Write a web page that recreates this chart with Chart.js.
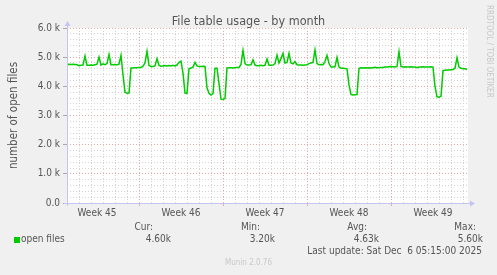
<!DOCTYPE html>
<html>
<head>
<meta charset="utf-8">
<script src="https://cdn.jsdelivr.net/npm/chart.js@4"></script>
<style>
  html, body { margin: 0; padding: 0; background: #f0f0f0; }
  #wrap { position: relative; width: 497px; height: 275px; font-family: "DejaVu Sans Condensed", "DejaVu Sans", sans-serif; color: #555; }
  canvas { position: absolute; left: 0; top: 0; }
  .t { position: absolute; white-space: pre; line-height: 1; }
</style>
</head>
<body>
<div id="wrap">
  <canvas id="myChart" width="497" height="275"></canvas>
  <div class="t" style="left:0;width:497px;text-align:center;top:15px;font-size:12.5px;">File table usage - by month</div>
  <div class="t" style="left:485px;top:5px;font-size:8px;color:#c8c8c8;writing-mode:vertical-rl;">RRDTOOL / TOBI OETIKER</div>
  <div class="t" style="right:344px;top:222px;font-size:10px;">Cur:</div>
  <div class="t" style="right:237px;top:222px;font-size:10px;">Min:</div>
  <div class="t" style="right:130px;top:222px;font-size:10px;">Avg:</div>
  <div class="t" style="right:21px;top:222px;font-size:10px;">Max:</div>
  <div style="position:absolute;left:14px;top:237px;width:6px;height:6px;background:#00cc00;"></div>
  <div class="t" style="left:21px;top:234px;font-size:10px;" id="seriesName"></div>
  <div class="t" style="right:326px;top:234px;font-size:10px;" id="statCur"></div>
  <div class="t" style="right:222px;top:234px;font-size:10px;" id="statMin"></div>
  <div class="t" style="right:118px;top:234px;font-size:10px;" id="statAvg"></div>
  <div class="t" style="right:14px;top:234px;font-size:10px;" id="statMax"></div>
  <div class="t" style="right:15px;top:246px;font-size:10px;">Last update: Sat Dec  6 05:15:00 2025</div>
  <div class="t" style="left:0;width:497px;text-align:center;top:259px;font-size:8px;color:#c8c8c8;">Munin 2.0.76</div>
</div>
<script>
// open files, one sample every 4 hours over the month
var sampleHours = 4;
var openFiles = [
    4750, 4760, 4750, 4760, 4750, 4740, 4710, 4720, 4730, 5040,
    4720, 4720, 4730, 4720, 4740, 4760, 5000, 4730, 4770, 4740,
    4780, 5090, 4740, 4740, 4750, 4740, 4760, 5060, 4400, 3800,
    3760, 3770, 4630, 4630, 4640, 4640, 4650, 4650, 4690, 4800,
    5200, 4720, 4680, 4680, 4700, 4950, 4720, 4690, 4700, 4710,
    4700, 4710, 4700, 4720, 4700, 4730, 4820, 4860, 4450, 3770,
    3760, 4600, 4630, 4660, 4820, 4700, 4680, 4680, 4690, 4680,
    3950, 3760, 3700, 3750, 4620, 4620, 4100, 3560, 3550, 3580,
    4630, 4640, 4640, 4630, 4640, 4650, 4650, 4750, 5230, 4780,
    4730, 4730, 4740, 4910, 4730, 4710, 4710, 4720, 4710, 4720,
    4940, 4720, 4720, 4730, 4780, 5070, 4800, 4950, 5130, 4800,
    4820, 5130, 4800, 4770, 4850, 4740, 4730, 4730, 4720, 4730,
    4740, 4780, 4800, 4820, 5250, 4780, 4740, 4750, 4740, 4850,
    5060, 4780, 4660, 4660, 4670, 4990, 4660, 4620, 4620, 4610,
    4600, 4050, 3720, 3700, 3710, 3720, 4620, 4640, 4630, 4640,
    4630, 4640, 4630, 4640, 4650, 4640, 4640, 4650, 4650, 4660,
    4660, 4670, 4680, 4670, 4660, 4680, 5190, 4680, 4660, 4670,
    4660, 4660, 4670, 4660, 4660, 4640, 4660, 4660, 4670, 4660,
    4660, 4660, 4670, 4660, 4000, 3640, 3630, 3660, 4540, 4550,
    4560, 4560, 4570, 4580, 4620, 4980, 4660, 4620, 4600, 4600,
    4580
];
var weekLabels = ['Week 45', 'Week 46', 'Week 47', 'Week 48', 'Week 49'];
var firstWeekStart = 144;   // hours from start of graph to first week boundary
var spanHours = 802;
var yMax = 6000;
var yStep = 200;
var seriesName = 'open files';
var stats = { cur: '4.60k', min: '3.20k', avg: '4.63k', max: '5.60k' };

document.getElementById('seriesName').textContent = seriesName;
document.getElementById('statCur').textContent = stats.cur;
document.getElementById('statMin').textContent = stats.min;
document.getElementById('statAvg').textContent = stats.avg;
document.getElementById('statMax').textContent = stats.max;

var FONT = '"DejaVu Sans Condensed", "DejaVu Sans", sans-serif';
var RED = '#e4aaaa';
var GREY = '#d4d4d4';
var AXIS = '#c4c4f4';

var points = openFiles.map(function (v, i) { return { x: i * sampleHours, y: v }; });

var plotBg = {
    id: 'plotBg',
    beforeDraw: function (chart) {
        var a = chart.chartArea, ctx = chart.ctx;
        ctx.save();
        ctx.fillStyle = '#ffffff';
        ctx.fillRect(a.left, a.top, a.right - a.left, a.bottom - a.top);
        ctx.restore();
    }
};

var axisArrows = {
    id: 'axisArrows',
    afterDraw: function (chart) {
        var a = chart.chartArea, ctx = chart.ctx;
        ctx.save();
        ctx.strokeStyle = AXIS;
        ctx.fillStyle = AXIS;
        ctx.lineWidth = 1;
        ctx.beginPath();
        ctx.moveTo(a.left + 0.5, a.bottom + 3);
        ctx.lineTo(a.left + 0.5, a.top - 3);
        ctx.moveTo(a.left - 3, a.bottom + 0.5);
        ctx.lineTo(a.right + 3, a.bottom + 0.5);
        ctx.stroke();
        ctx.beginPath();
        ctx.moveTo(a.left - 2.5, a.top - 2);
        ctx.lineTo(a.left + 3.5, a.top - 2);
        ctx.lineTo(a.left + 0.5, a.top - 7);
        ctx.fill();
        ctx.beginPath();
        ctx.moveTo(a.right + 2, a.bottom - 2.5);
        ctx.lineTo(a.right + 2, a.bottom + 3.5);
        ctx.lineTo(a.right + 7, a.bottom + 0.5);
        ctx.fill();
        ctx.restore();
    }
};

function isWeekStart(h) { return h >= firstWeekStart && (h - firstWeekStart) % 168 === 0; }

var ctx = document.getElementById('myChart').getContext('2d');
var myChart = new Chart(ctx, {
    type: 'line',
    data: {
        datasets: [{
            label: seriesName,
            data: points,
            borderColor: '#00cc00',
            borderWidth: 1.5,
            pointRadius: 0,
            fill: false,
            tension: 0
        }]
    },
    options: {
        responsive: false,
        animation: false,
        devicePixelRatio: 1,
        layout: { padding: { left: 0, right: 29, top: 28, bottom: 52 } },
        plugins: {
            legend: { display: false },
            title: { display: false },
            tooltip: { enabled: false }
        },
        scales: {
            x: {
                type: 'linear',
                min: 0,
                max: spanHours,
                afterFit: function (scale) { scale.height = 20; },
                afterBuildTicks: function (scale) {
                    var t = [];
                    for (var h = 0; h <= spanHours; h += 12) t.push({ value: h });
                    scale.ticks = t;
                },
                border: { display: false, dash: [1, 2] },
                grid: {
                    tickLength: 3,
                    color: function (c) {
                        var h = c.tick ? c.tick.value : -1;
                        if (isWeekStart(h)) return RED;
                        if (h % 24 === 0 && h > 0) return GREY;
                        return 'transparent';
                    },
                    tickColor: function (c) {
                        return c.tick && isWeekStart(c.tick.value) ? RED : 'transparent';
                    }
                },
                ticks: {
                    autoSkip: false,
                    maxRotation: 0,
                    padding: 1,
                    color: '#555',
                    font: { family: FONT, size: 10 },
                    callback: function (v) {
                        var k = (v - firstWeekStart + 84) / 168;
                        if (Number.isInteger(k) && k >= 0 && k < weekLabels.length) return weekLabels[k];
                        return '';
                    }
                }
            },
            y: {
                min: 0,
                max: yMax,
                afterFit: function (scale) { scale.width = 67; },
                afterBuildTicks: function (scale) {
                    var t = [];
                    for (var v = 0; v <= yMax; v += yStep) t.push({ value: v });
                    scale.ticks = t;
                },
                border: { display: false, dash: [1, 2] },
                grid: {
                    tickLength: 4,
                    color: function (c) {
                        var v = c.tick ? c.tick.value : 0;
                        if (v === 0) return 'transparent';
                        return v % 1000 === 0 ? RED : GREY;
                    },
                    tickColor: function (c) {
                        return c.tick && c.tick.value % 1000 === 0 ? '#aaaaaa' : 'transparent';
                    }
                },
                ticks: {
                    autoSkip: false,
                    padding: 3,
                    color: '#555',
                    font: { family: FONT, size: 10 },
                    callback: function (v) {
                        if (v % 1000 !== 0) return '';
                        return v === 0 ? '0.0' : (v / 1000).toFixed(1) + ' k';
                    }
                },
                title: {
                    display: true,
                    text: 'number of open files',
                    color: '#555',
                    font: { family: FONT, size: 11.5 },
                    padding: { top: 7, bottom: 0 }
                }
            }
        }
    },
    plugins: [plotBg, axisArrows]
});
</script>
</body>
</html>
